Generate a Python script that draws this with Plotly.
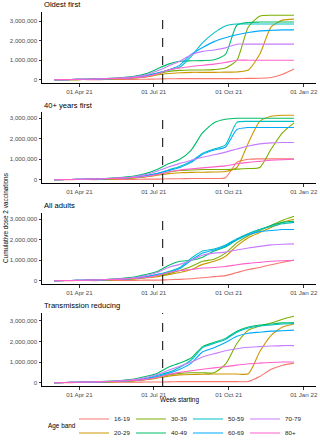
import plotly.graph_objects as go
from plotly.subplots import make_subplots
import datetime as _dt

# ---------------- data ----------------
dates = ["2021-03-01", "2021-03-15", "2021-03-29", "2021-04-12", "2021-04-26",
         "2021-05-10", "2021-05-24", "2021-06-07", "2021-06-21", "2021-07-05",
         "2021-07-19", "2021-08-02", "2021-08-16", "2021-08-30", "2021-09-13",
         "2021-09-27", "2021-10-11", "2021-10-25", "2021-11-08", "2021-11-22",
         "2021-12-06", "2021-12-20"]

age_bands = ["16-19", "20-29", "30-39", "40-49", "50-59", "60-69", "70-79", "80+"]
band_colors = ["#F8766D", "#CD9600", "#7CAE00", "#00BE67",
               "#00BFC4", "#00A9FF", "#C77CFF", "#FF61CC"]
scenarios = ["Oldest first", "40+ years first", "All adults", "Transmission reducing"]

x_tick_vals = ["2021-04-01", "2021-07-01", "2021-10-01", "2022-01-01"]
x_tick_text = ["01 Apr 21", "01 Jul 21", "01 Oct 21", "01 Jan 22"]
x_limits = ["2021-03-01", "2022-01-01"]
y_tick_vals = [0, 1000000, 2000000, 3000000]
marker_date = "2021-07-12"

# cumulative dose 2 vaccinations, millions
oldest_16_19 = [0.0, 0.0, 0.01, 0.01, 0.01, 0.02, 0.02, 0.02, 0.03, 0.04, 0.05, 0.06, 0.06, 0.06, 0.06, 0.06, 0.06, 0.07, 0.08, 0.12, 0.28, 0.55]
oldest_20_29 = [0.0, 0.01, 0.01, 0.02, 0.03, 0.04, 0.06, 0.09, 0.14, 0.24, 0.32, 0.36, 0.38, 0.38, 0.38, 0.39, 0.40, 0.50, 1.30, 2.70, 3.05, 3.10]
oldest_30_39 = [0.0, 0.01, 0.01, 0.02, 0.03, 0.05, 0.07, 0.10, 0.16, 0.28, 0.42, 0.48, 0.50, 0.50, 0.52, 0.60, 1.00, 2.70, 3.25, 3.30, 3.30, 3.30]
oldest_40_49 = [0.0, 0.01, 0.02, 0.03, 0.05, 0.08, 0.12, 0.18, 0.30, 0.55, 0.80, 0.95, 0.97, 0.98, 1.02, 1.30, 2.80, 2.93, 2.95, 2.95, 2.95, 2.95]
oldest_50_59 = [0.0, 0.01, 0.02, 0.03, 0.04, 0.06, 0.08, 0.12, 0.20, 0.35, 0.50, 0.65, 1.20, 1.90, 2.40, 2.75, 2.85, 2.85, 2.85, 2.85, 2.85, 2.85]
oldest_60_69 = [0.0, 0.01, 0.02, 0.03, 0.04, 0.06, 0.08, 0.12, 0.19, 0.32, 0.50, 0.75, 1.30, 1.65, 1.95, 2.15, 2.30, 2.42, 2.50, 2.53, 2.55, 2.55]
oldest_70_79 = [0.0, 0.01, 0.02, 0.03, 0.05, 0.07, 0.10, 0.15, 0.25, 0.45, 0.70, 0.95, 1.28, 1.45, 1.52, 1.63, 1.82, 1.82, 1.82, 1.82, 1.82, 1.82]
oldest_80 = [0.0, 0.01, 0.02, 0.03, 0.04, 0.06, 0.08, 0.11, 0.16, 0.30, 0.50, 0.60, 0.68, 0.74, 0.80, 0.88, 1.00, 1.00, 1.00, 1.00, 1.00, 1.00]

forty_16_19 = [0.0, 0.0, 0.01, 0.01, 0.01, 0.02, 0.02, 0.02, 0.03, 0.03, 0.05, 0.05, 0.06, 0.06, 0.06, 0.10, 0.85, 1.00, 1.02, 1.02, 1.02, 1.02]
forty_20_29 = [0.0, 0.01, 0.01, 0.02, 0.03, 0.04, 0.06, 0.09, 0.14, 0.22, 0.30, 0.34, 0.36, 0.37, 0.38, 0.40, 0.60, 1.80, 2.85, 3.10, 3.15, 3.15]
forty_30_39 = [0.0, 0.01, 0.01, 0.02, 0.03, 0.05, 0.07, 0.10, 0.16, 0.25, 0.38, 0.45, 0.48, 0.50, 0.50, 0.50, 0.52, 0.55, 0.60, 1.50, 2.30, 2.78]
forty_40_49 = [0.0, 0.01, 0.02, 0.03, 0.05, 0.08, 0.12, 0.18, 0.30, 0.50, 0.78, 1.00, 1.45, 2.30, 2.78, 2.95, 3.00, 3.00, 3.00, 3.00, 3.00, 3.00]
forty_50_59 = [0.0, 0.01, 0.02, 0.03, 0.04, 0.06, 0.08, 0.12, 0.20, 0.30, 0.48, 0.65, 0.90, 1.30, 1.50, 1.70, 2.80, 2.85, 2.85, 2.85, 2.85, 2.85]
forty_60_69 = [0.0, 0.01, 0.02, 0.03, 0.04, 0.06, 0.08, 0.12, 0.19, 0.30, 0.45, 0.60, 0.85, 1.25, 1.45, 1.60, 2.45, 2.55, 2.55, 2.55, 2.55, 2.55]
forty_70_79 = [0.0, 0.01, 0.02, 0.03, 0.05, 0.07, 0.10, 0.15, 0.25, 0.42, 0.62, 0.80, 0.95, 1.10, 1.22, 1.35, 1.50, 1.65, 1.75, 1.80, 1.82, 1.82]
forty_80 = [0.0, 0.01, 0.02, 0.03, 0.04, 0.06, 0.08, 0.11, 0.16, 0.25, 0.38, 0.48, 0.53, 0.58, 0.63, 0.68, 0.78, 0.85, 0.90, 0.95, 0.98, 1.00]

adults_16_19 = [0.0, 0.0, 0.01, 0.01, 0.01, 0.02, 0.02, 0.02, 0.03, 0.03, 0.05, 0.07, 0.10, 0.15, 0.20, 0.25, 0.40, 0.55, 0.65, 0.78, 0.90, 1.00]
adults_20_29 = [0.0, 0.01, 0.01, 0.02, 0.03, 0.04, 0.06, 0.09, 0.14, 0.20, 0.30, 0.40, 0.55, 0.80, 0.95, 1.20, 1.70, 2.10, 2.35, 2.60, 2.85, 3.00]
adults_30_39 = [0.0, 0.01, 0.01, 0.02, 0.03, 0.05, 0.07, 0.10, 0.16, 0.25, 0.35, 0.50, 0.70, 0.95, 1.05, 1.35, 1.85, 2.20, 2.45, 2.70, 2.95, 3.15]
adults_40_49 = [0.0, 0.01, 0.02, 0.03, 0.05, 0.08, 0.12, 0.18, 0.30, 0.45, 0.75, 0.95, 1.00, 1.15, 1.45, 1.65, 2.00, 2.30, 2.50, 2.70, 2.85, 2.90]
adults_50_59 = [0.0, 0.01, 0.02, 0.03, 0.04, 0.06, 0.08, 0.12, 0.20, 0.30, 0.45, 0.65, 1.10, 1.45, 1.55, 1.75, 2.05, 2.30, 2.50, 2.65, 2.78, 2.85]
adults_60_69 = [0.0, 0.01, 0.02, 0.03, 0.04, 0.06, 0.08, 0.12, 0.19, 0.30, 0.40, 0.60, 1.00, 1.35, 1.50, 1.70, 2.00, 2.25, 2.40, 2.45, 2.50, 2.50]
adults_70_79 = [0.0, 0.01, 0.02, 0.03, 0.05, 0.07, 0.10, 0.15, 0.25, 0.40, 0.65, 0.80, 1.00, 1.25, 1.35, 1.40, 1.50, 1.60, 1.68, 1.75, 1.78, 1.80]
adults_80 = [0.0, 0.01, 0.02, 0.03, 0.04, 0.06, 0.08, 0.11, 0.16, 0.25, 0.40, 0.50, 0.55, 0.62, 0.65, 0.70, 0.78, 0.85, 0.90, 0.95, 0.98, 1.00]

trans_16_19 = [0.0, 0.0, 0.01, 0.01, 0.01, 0.02, 0.02, 0.02, 0.03, 0.03, 0.04, 0.05, 0.05, 0.05, 0.05, 0.05, 0.05, 0.06, 0.30, 0.65, 0.85, 0.95]
trans_20_29 = [0.0, 0.01, 0.01, 0.02, 0.03, 0.04, 0.06, 0.09, 0.14, 0.22, 0.32, 0.38, 0.40, 0.41, 0.42, 0.42, 0.42, 0.43, 1.50, 2.30, 2.70, 2.85]
trans_30_39 = [0.0, 0.01, 0.01, 0.02, 0.03, 0.05, 0.07, 0.10, 0.16, 0.25, 0.38, 0.45, 0.48, 0.48, 0.48, 0.90, 1.90, 2.55, 2.75, 2.90, 3.08, 3.22]
trans_40_49 = [0.0, 0.01, 0.02, 0.03, 0.05, 0.08, 0.12, 0.18, 0.30, 0.45, 0.75, 0.95, 1.20, 1.75, 1.95, 2.15, 2.50, 2.70, 2.80, 2.85, 2.90, 2.92]
trans_50_59 = [0.0, 0.01, 0.02, 0.03, 0.04, 0.06, 0.08, 0.12, 0.20, 0.35, 0.50, 0.75, 1.10, 1.70, 1.90, 2.10, 2.45, 2.65, 2.75, 2.80, 2.85, 2.87]
trans_60_69 = [0.0, 0.01, 0.02, 0.03, 0.04, 0.06, 0.08, 0.12, 0.19, 0.30, 0.45, 0.65, 0.95, 1.50, 1.70, 1.95, 2.25, 2.40, 2.45, 2.50, 2.52, 2.55]
trans_70_79 = [0.0, 0.01, 0.02, 0.03, 0.05, 0.07, 0.10, 0.15, 0.25, 0.40, 0.60, 0.80, 1.00, 1.25, 1.40, 1.55, 1.65, 1.72, 1.75, 1.78, 1.80, 1.80]
trans_80 = [0.0, 0.01, 0.02, 0.03, 0.04, 0.06, 0.08, 0.11, 0.16, 0.25, 0.40, 0.50, 0.58, 0.65, 0.72, 0.78, 0.85, 0.92, 0.95, 0.98, 1.00, 1.00]

panel_series = [
    [oldest_16_19, oldest_20_29, oldest_30_39, oldest_40_49, oldest_50_59, oldest_60_69, oldest_70_79, oldest_80],
    [forty_16_19, forty_20_29, forty_30_39, forty_40_49, forty_50_59, forty_60_69, forty_70_79, forty_80],
    [adults_16_19, adults_20_29, adults_30_39, adults_40_49, adults_50_59, adults_60_69, adults_70_79, adults_80],
    [trans_16_19, trans_20_29, trans_30_39, trans_40_49, trans_50_59, trans_60_69, trans_70_79, trans_80],
]

# ---------------- layout helpers ----------------
W, H = 320, 440
ML, MR = 42, 4
FONT = "Liberation Sans, Arial, Helvetica, sans-serif"
panel_px = [(12, 83), (112, 183), (213, 284), (313, 386)]   # (top, bottom) in px
title_px = [5, 105, 205.5, 305]


def py(p):
    return 1 - p / H


def px(p):
    return (p - ML) / (W - ML - MR)


fig = make_subplots(rows=4, cols=1)

# legend laid out as 2 rows x 4 columns (column-major like ggplot)
legend_names = ["legend", "legend2", "legend", "legend2",
                "legend", "legend2", "legend", "legend2"]

for r, series in enumerate(panel_series):
    for i, vals in enumerate(series):
        fig.add_trace(go.Scatter(
            x=dates, y=[v * 1e6 for v in vals],
            mode="lines", name=age_bands[i],
            line=dict(color=band_colors[i], width=1.1, shape="spline", smoothing=0.6),
            showlegend=(r == 0), legend=legend_names[i],
            hoverinfo="skip"),
            row=r + 1, col=1)

annotations = []
shapes = []
# x axis span: ggplot-style 5% expansion around the limits
d0 = _dt.date.fromisoformat(x_limits[0])
d1 = _dt.date.fromisoformat(x_limits[1])
pad = _dt.timedelta(days=(d1 - d0).days * 0.05)
x_range = [str(d0 - pad), str(d1 + pad)]

for r, series in enumerate(panel_series):
    top, bot = panel_px[r]
    ymax = max(max(s) for s in series) * 1e6
    yr = [-0.05 * ymax, 1.05 * ymax]
    xa = "xaxis" if r == 0 else f"xaxis{r + 1}"
    ya = "yaxis" if r == 0 else f"yaxis{r + 1}"
    fig.layout[xa].update(
        domain=[0, 1], range=x_range, type="date",
        tickvals=x_tick_vals, ticktext=x_tick_text,
        showline=True, linecolor="#000000", linewidth=1,
        ticks="outside", ticklen=2.5, tickwidth=0.8, tickcolor="#333333",
        tickfont=dict(size=6.2, color="#4D4D4D", family=FONT),
        showgrid=False, zeroline=False)
    fig.layout[ya].update(
        domain=[py(bot), py(top)], range=yr,
        tickvals=y_tick_vals, tickformat=",d",
        showline=True, linecolor="#000000", linewidth=1,
        ticks="outside", ticklen=2.5, tickwidth=0.8, tickcolor="#333333",
        tickfont=dict(size=6.2, color="#4D4D4D", family=FONT),
        showgrid=False, zeroline=False)
    xref = "x" if r == 0 else f"x{r + 1}"
    yref = "y domain" if r == 0 else f"y{r + 1} domain"
    shapes.append(dict(type="line", xref=xref, yref=yref,
                       x0=marker_date, x1=marker_date, y0=0, y1=1,
                       line=dict(color="#000000", width=1, dash="dash")))
    annotations.append(dict(text=scenarios[r], xref="paper", yref="paper",
                            x=0, y=py(title_px[r]), xanchor="left", yanchor="middle",
                            showarrow=False,
                            font=dict(size=7.6, color="#000000", family=FONT)))

annotations.append(dict(text="Week starting", xref="paper", yref="paper",
                        x=0.5, y=py(400), xanchor="center", yanchor="middle",
                        showarrow=False, font=dict(size=6.4, color="#000000", family=FONT)))
annotations.append(dict(text="Cumulative dose 2 vaccinations", xref="paper", yref="paper",
                        x=px(5), y=py(218), xanchor="center", yanchor="middle",
                        textangle=-90, showarrow=False,
                        font=dict(size=6.4, color="#000000", family=FONT)))
annotations.append(dict(text="Age band", xref="paper", yref="paper",
                        x=px(62), y=py(426), xanchor="center", yanchor="middle",
                        showarrow=False, font=dict(size=6.4, color="#000000", family=FONT)))

legend_common = dict(orientation="h", xanchor="left", yanchor="middle",
                     bgcolor="rgba(0,0,0,0)", borderwidth=0, itemwidth=30,
                     entrywidth=12, entrywidthmode="pixels",
                     font=dict(size=6.2, color="#1A1A1A", family=FONT),
                     tracegroupgap=0, itemclick=False, itemdoubleclick=False)
legend_left_px = 74
legend_rows_px = [419, 433]

fig.update_layout(
    width=W, height=H,
    template="none",
    paper_bgcolor="white", plot_bgcolor="white",
    margin=dict(l=ML, r=MR, t=0, b=0, autoexpand=False),
    font=dict(family=FONT, color="#000000"),
    annotations=annotations, shapes=shapes,
    legend=dict(x=px(legend_left_px), y=py(legend_rows_px[0]), **legend_common),
    legend2=dict(x=px(legend_left_px), y=py(legend_rows_px[1]), **legend_common),
)

fig.write_html("out.html", config={"displayModeBar": False})

# remove the browser's default page margin so the figure sits at the window origin
with open("out.html", "r", encoding="utf-8") as fh:
    page = fh.read()
page = page.replace("<head>", "<head><style>html,body{margin:0;padding:0;overflow:hidden;}</style>", 1)
with open("out.html", "w", encoding="utf-8") as fh:
    fh.write(page)
